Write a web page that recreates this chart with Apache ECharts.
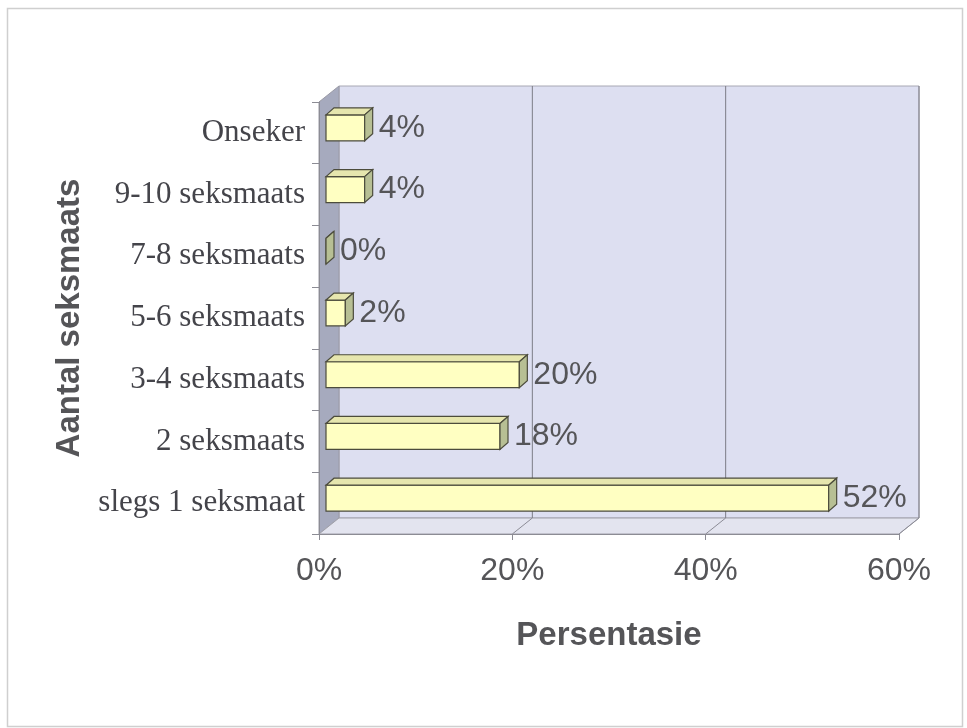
<!DOCTYPE html>
<html>
<head>
<meta charset="utf-8">
<script src="https://cdn.jsdelivr.net/npm/echarts@6/dist/echarts.min.js"></script>
<style>
  html, body { margin: 0; padding: 0; background: #fff; }
  #chart { width: 967px; height: 728px; }
</style>
</head>
<body>
<div id="chart"></div>
<script>
// data, bottom to top as the category axis draws it
var categories = ['slegs 1 seksmaat', '2 seksmaats', '3-4 seksmaats', '5-6 seksmaats', '7-8 seksmaats', '9-10 seksmaats', 'Onseker'];
var percentages = [52, 18, 20, 2, 0, 4, 4];
var xTicks = [0, 20, 40, 60];

var myChart = echarts.init(document.getElementById('chart'));

// depth of the 3d box (back wall offset) and of the bars
var DEPTH = [20, -16];
var BAR_FRONT = [7, -5];
var BAR_BACK = [15, -12];

var renderWalls = function (params, api) {
  var cs = params.coordSys;
  var x0 = cs.x, y0 = cs.y, x1 = cs.x + cs.width, y1 = cs.y + cs.height;
  var dx = DEPTH[0], dy = DEPTH[1];
  var children = [];
  // back wall
  children.push({
    type: 'polygon',
    shape: { points: [[x0 + dx, y0 + dy], [x1 + dx, y0 + dy], [x1 + dx, y1 + dy], [x0 + dx, y1 + dy]] },
    style: { fill: '#dddff1', stroke: '#a8a8b4', lineWidth: 1 }
  });
  // left wall
  children.push({
    type: 'polygon',
    shape: { points: [[x0, y0], [x0 + dx, y0 + dy], [x0 + dx, y1 + dy], [x0, y1]] },
    style: { fill: '#a6aabe', stroke: '#9a9aa6', lineWidth: 1 }
  });
  // floor
  children.push({
    type: 'polygon',
    shape: { points: [[x0, y1], [x1, y1], [x1 + dx, y1 + dy], [x0 + dx, y1 + dy]] },
    style: { fill: '#e3e4ef', stroke: '#a0a0aa', lineWidth: 1 }
  });
  xTicks.forEach(function (t) {
    if (t === 0) return;
    var xf = api.coord([t, 0])[0];
    children.push({
      type: 'line',
      shape: { x1: xf + dx, y1: y0 + dy, x2: xf + dx, y2: y1 + dy },
      style: { stroke: '#7c7c86', lineWidth: 1 }
    });
    children.push({
      type: 'line',
      shape: { x1: xf, y1: y1, x2: xf + dx, y2: y1 + dy },
      style: { stroke: '#8c8c96', lineWidth: 1 }
    });
  });
  return { type: 'group', children: children };
};

var renderBars = function (params, api) {
  var v = api.value(0);
  var idx = api.value(1);
  var p0 = api.coord([0, idx]);
  var p1 = api.coord([v, idx]);
  var band = api.size([0, 1])[1];
  var h = band * 0.21;
  var fx = BAR_FRONT[0], fy = BAR_FRONT[1];
  var bx = BAR_BACK[0], by = BAR_BACK[1];
  var left = p0[0] + fx, right = p1[0] + fx;
  var top = p0[1] + fy - h, bottom = p0[1] + fy + h;
  var ddx = bx - fx, ddy = by - fy;
  var edge = '#4c4c3c';
  return {
    type: 'group',
    children: [
      {
        type: 'polygon',
        shape: { points: [[left, top], [right, top], [right, bottom], [left, bottom]] },
        style: { fill: '#ffffc2', stroke: edge, lineWidth: 1.2 }
      },
      {
        type: 'polygon',
        shape: { points: [[left, top], [left + ddx, top + ddy], [right + ddx, top + ddy], [right, top]] },
        style: { fill: '#e6e6ae', stroke: edge, lineWidth: 1.2 }
      },
      {
        type: 'polygon',
        shape: { points: [[right, top], [right + ddx, top + ddy], [right + ddx, bottom + ddy], [right, bottom]] },
        style: { fill: '#b7bf94', stroke: edge, lineWidth: 1.2 }
      },
      {
        type: 'text',
        style: {
          x: right + ddx + 6,
          y: p0[1] + fy,
          text: v + '%',
          fill: '#555558',
          font: '32px "Liberation Sans", Arial, sans-serif',
          verticalAlign: 'middle',
          align: 'left'
        }
      }
    ]
  };
};

var option = {
  backgroundColor: '#ffffff',
  animation: false,
  graphic: [
    {
      type: 'rect',
      shape: { x: 7.5, y: 8.5, width: 955, height: 718 },
      style: { fill: 'none', stroke: '#cfcfcf', lineWidth: 1.5 },
      z: -1
    }
  ],
  grid: {
    left: 319,
    right: 68,
    top: 102,
    bottom: 194
  },
  xAxis: {
    type: 'value',
    min: 0,
    max: 60,
    interval: 20,
    z: 5,
    name: 'Persentasie',
    nameLocation: 'middle',
    nameGap: 85,
    nameTextStyle: {
      fontFamily: '"Liberation Sans", Arial, sans-serif',
      fontSize: 33,
      fontWeight: 'bold',
      color: '#555558'
    },
    axisLine: {
      show: true,
      lineStyle: { color: '#8c8c94', width: 1 }
    },
    axisTick: {
      show: true,
      length: 6,
      lineStyle: { color: '#8c8c94' }
    },
    splitLine: { show: false },
    axisLabel: {
      formatter: '{value}%',
      fontFamily: '"Liberation Sans", Arial, sans-serif',
      fontSize: 32,
      color: '#555558',
      margin: 21
    }
  },
  yAxis: {
    type: 'category',
    data: categories,
    z: 5,
    name: 'Aantal seksmaats',
    nameLocation: 'middle',
    nameRotate: 90,
    nameGap: 233,
    nameTextStyle: {
      fontFamily: '"Liberation Sans", Arial, sans-serif',
      fontSize: 33,
      fontWeight: 'bold',
      color: '#555558'
    },
    axisLine: {
      show: true,
      lineStyle: { color: '#8c8c94', width: 1 }
    },
    axisTick: {
      show: true,
      length: 7,
      lineStyle: { color: '#8c8c94' }
    },
    splitLine: { show: false },
    axisLabel: {
      fontFamily: '"Liberation Serif", "Times New Roman", serif',
      fontSize: 31,
      color: '#44444a',
      margin: 14
    }
  },
  series: [
    {
      type: 'custom',
      z: 1,
      clip: false,
      silent: true,
      renderItem: renderWalls,
      data: [[0, 0]]
    },
    {
      type: 'custom',
      z: 3,
      clip: false,
      renderItem: renderBars,
      encode: { x: 0, y: 1 },
      data: percentages.map(function (v, i) { return [v, i]; })
    }
  ]
};

option && myChart.setOption(option);
</script>
</body>
</html>
